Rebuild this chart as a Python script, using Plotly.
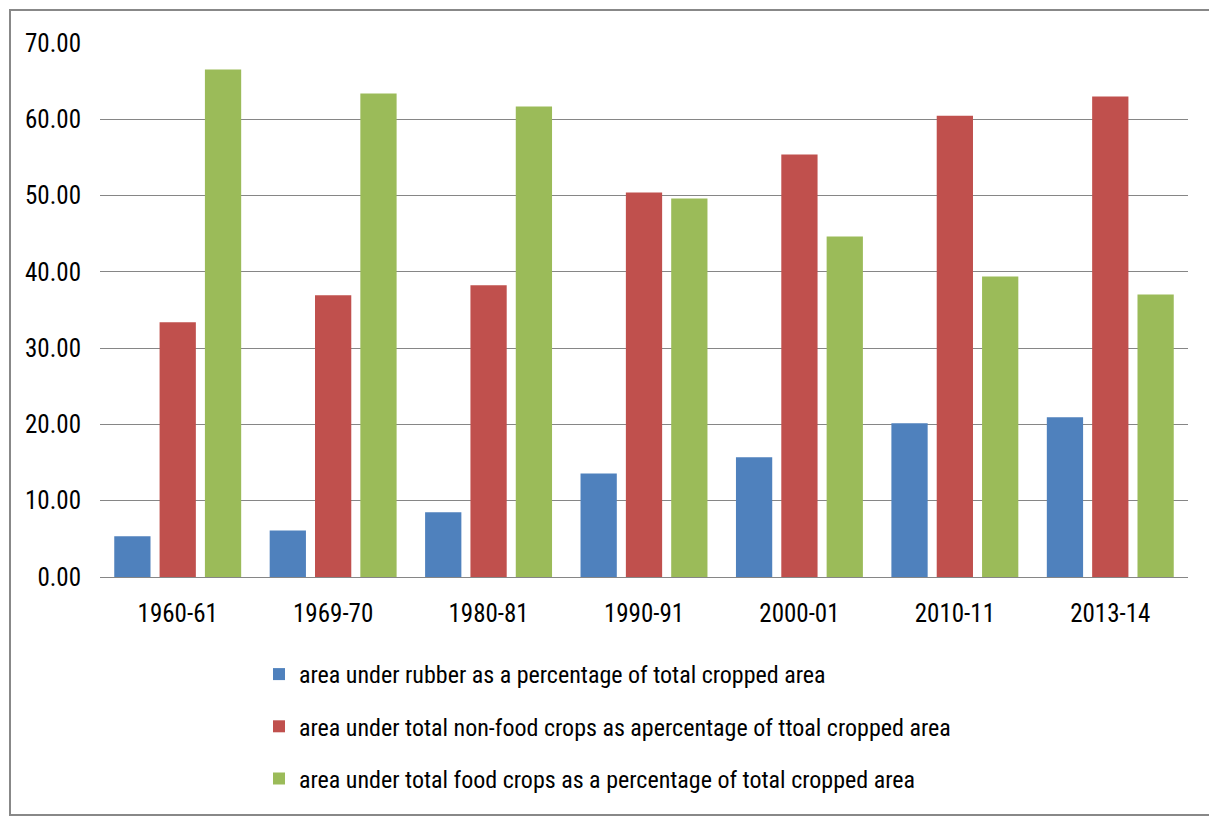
import plotly.graph_objects as go

categories = ["1960-61", "1969-70", "1980-81", "1990-91", "2000-01", "2010-11", "2013-14"]
rubber = [5.33, 6.10, 8.48, 13.57, 15.70, 20.16, 20.93]
non_food = [33.38, 36.92, 38.23, 50.39, 55.38, 60.47, 62.98]
food = [66.52, 63.37, 61.68, 49.61, 44.62, 39.39, 37.02]

names = [
    "area under rubber as a percentage of total cropped area",
    "area under total non-food crops as apercentage of ttoal cropped area",
    "area under total food crops as a percentage of total cropped area",
]
colors = ["#4F81BD", "#C0504D", "#9BBB59"]
series = [rubber, non_food, food]

FONT = "Liberation Sans Narrow, Arial Narrow, Roboto Condensed, sans-serif"

fig = go.Figure()
for i, (name, vals, col) in enumerate(zip(names, series, colors)):
    fig.add_trace(go.Bar(
        x=categories, y=vals, name=name,
        marker=dict(color=col, line=dict(width=0)),
        legendgroup=f"g{i}",
    ))

W, H = 1209, 817
L, R, T, B = 100, 21, 43, 240
pw = W - L - R
ph = H - T - B

def px_x(x):
    return (x - L) / pw

def px_y(y):
    return (H - B - y) / ph

fig.update_layout(
    width=W, height=H,
    margin=dict(l=L, r=R, t=T, b=B),
    paper_bgcolor="white", plot_bgcolor="white",
    barmode="group", bargap=0.125, bargroupgap=0.2,
    font=dict(family=FONT, size=25, color="#000000"),
    showlegend=True,
    legend=dict(
        orientation="v",
        x=px_x(259), xanchor="left",
        y=px_y(652), yanchor="top",
        traceorder="grouped",
        tracegroupgap=18,
        itemwidth=30,
        font=dict(family=FONT, size=24, color="#000000"),
        bgcolor="rgba(0,0,0,0)",
    ),
    xaxis=dict(
        type="category",
        showgrid=False, showline=False, zeroline=False,
        ticks="", ticklabelstandoff=19,
        tickfont=dict(family=FONT, size=25, color="#000000"),
    ),
    yaxis=dict(
        range=[0, 70], dtick=10, tickformat=".2f",
        showgrid=True, gridcolor="#868686", gridwidth=1,
        zeroline=True, zerolinecolor="#868686", zerolinewidth=1,
        showline=False, ticks="", ticklabelstandoff=18,
        tickfont=dict(family=FONT, size=25, color="#000000"),
    ),
    shapes=[dict(
        type="rect", xref="paper", yref="paper",
        x0=px_x(10), x1=px_x(1240), y0=px_y(815), y1=px_y(10),
        line=dict(color="#888888", width=2), fillcolor="rgba(0,0,0,0)",
        layer="below",
    )],
)

fig.write_html("out.html")
